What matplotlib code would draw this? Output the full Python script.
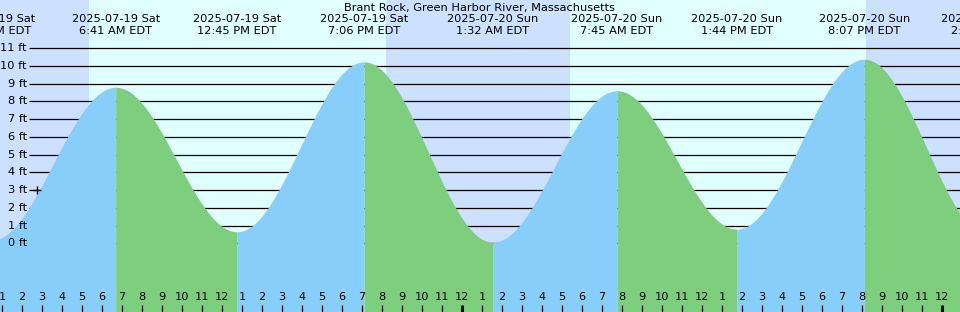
import numpy as np
import pandas as pd
import matplotlib
matplotlib.use('Agg')
import matplotlib.pyplot as plt

# Данные: экстремумы прилива (время, высота в футах)
TITLE = 'Brant Rock, Green Harbor River, Massachusetts'
event_times = ['2025-07-19 00:27', '2025-07-19 06:41', '2025-07-19 12:45',
               '2025-07-19 19:06', '2025-07-20 01:32', '2025-07-20 07:45',
               '2025-07-20 13:44', '2025-07-20 20:07', '2025-07-21 02:18']
event_heights = [0.16, 8.8, 0.65, 10.23, 0.06, 8.6, 0.8, 10.38, 0.5]

# Восход / закат
sunrise_times = ['2025-07-19 05:21', '2025-07-20 05:24']
sunset_times = ['2025-07-19 20:12', '2025-07-20 20:12']

level_ticks = list(range(0, 12))
now_time = '2025-07-19 02:46'
now_level = 3

START = pd.Timestamp('2025-07-19 00:00')
X_LEFT, X_RIGHT = 0.9, 48.9
Y_BOTTOM, Y_TOP = -3.875, 13.72

DAY_COLOR = '#e0ffff'
NIGHT_COLOR = '#cce0ff'
FLOOD_COLOR = '#87cefa'
EBB_COLOR = '#7dcf7d'
FONT = 8.2


def to_hours(s):
    return (pd.Timestamp(s) - START).total_seconds() / 3600.0


def fmt_date(s):
    t = pd.Timestamp(s)
    return t.strftime('%Y-%m-%d %a')


def fmt_time(s):
    t = pd.Timestamp(s)
    h = t.hour % 12
    if h == 0:
        h = 12
    return f"{h}:{t.minute:02d} {'AM' if t.hour < 12 else 'PM'} EDT"


ev_x = [to_hours(s) for s in event_times]

fig = plt.figure(figsize=(9.6, 3.12), dpi=100)
ax = fig.add_axes([0, 0, 1, 1])
ax.set_xlim(X_LEFT, X_RIGHT)
ax.set_ylim(Y_BOTTOM, Y_TOP)
ax.axis('off')

# фон: день / ночь
ax.axvspan(X_LEFT - 5, X_RIGHT + 5, color=DAY_COLOR, zorder=0)
night_edges = [X_LEFT - 5] + [v for pair in zip(sunrise_times, sunset_times)
                             for v in (to_hours(pair[0]), to_hours(pair[1]))] + [X_RIGHT + 5]
for a, b in zip(night_edges[0::2], night_edges[1::2]):
    ax.axvspan(a, b, color=NIGHT_COLOR, lw=0, zorder=0)

# горизонтальные линии уровней
ytr = ax.get_yaxis_transform()
ax.hlines(level_ticks, 29 / 960, 1, transform=ytr, color='black', lw=0.9, zorder=1)

# кривая прилива между экстремумами (косинусная форма), прилив синий, отлив зелёный
for i in range(len(ev_x) - 1):
    t0, t1 = ev_x[i], ev_x[i + 1]
    h0, h1 = event_heights[i], event_heights[i + 1]
    t = np.linspace(t0, t1, 200)
    h = h0 + (h1 - h0) * (1 - np.cos(np.pi * (t - t0) / (t1 - t0))) / 2
    color = FLOOD_COLOR if h1 > h0 else EBB_COLOR
    ax.fill_between(t, h, Y_BOTTOM - 2, color=color, lw=0, zorder=2)

# подписи уровней
for lv in level_ticks:
    ax.text(27 / 960, lv, f'{lv} ft', transform=ytr, ha='right', va='center',
            fontsize=FONT, zorder=5)

# метка текущего момента
ax.plot([to_hours(now_time)], [now_level], marker='+', color='black',
        markersize=6, mew=1.0, zorder=5)

# заголовок и подписи экстремумов
xtr = ax.get_xaxis_transform()
ax.text(0.5, 1 - 7.5 / 312, TITLE, transform=ax.transAxes, ha='center', va='center',
        fontsize=FONT, zorder=5)
for s, x in zip(event_times, ev_x):
    ax.text(x, 1 - 19 / 312, fmt_date(s), transform=xtr, ha='center', va='center',
            fontsize=FONT, zorder=5, clip_on=False)
    ax.text(x, 1 - 31.5 / 312, fmt_time(s), transform=xtr, ha='center', va='center',
            fontsize=FONT, zorder=5, clip_on=False)

# часовые метки внизу
hours = np.arange(1, 50)
for hr in hours:
    lbl = (hr - 1) % 12 + 1
    thick = hr % 24 == 0
    ax.vlines(hr, 0, 7 / 312, transform=xtr, color='black',
              lw=2.2 if thick else 0.9, zorder=5)
    ax.text(hr, 15 / 312, str(lbl), transform=xtr, ha='center', va='center',
            fontsize=FONT, zorder=5)

fig.savefig('out.png', dpi=100)
